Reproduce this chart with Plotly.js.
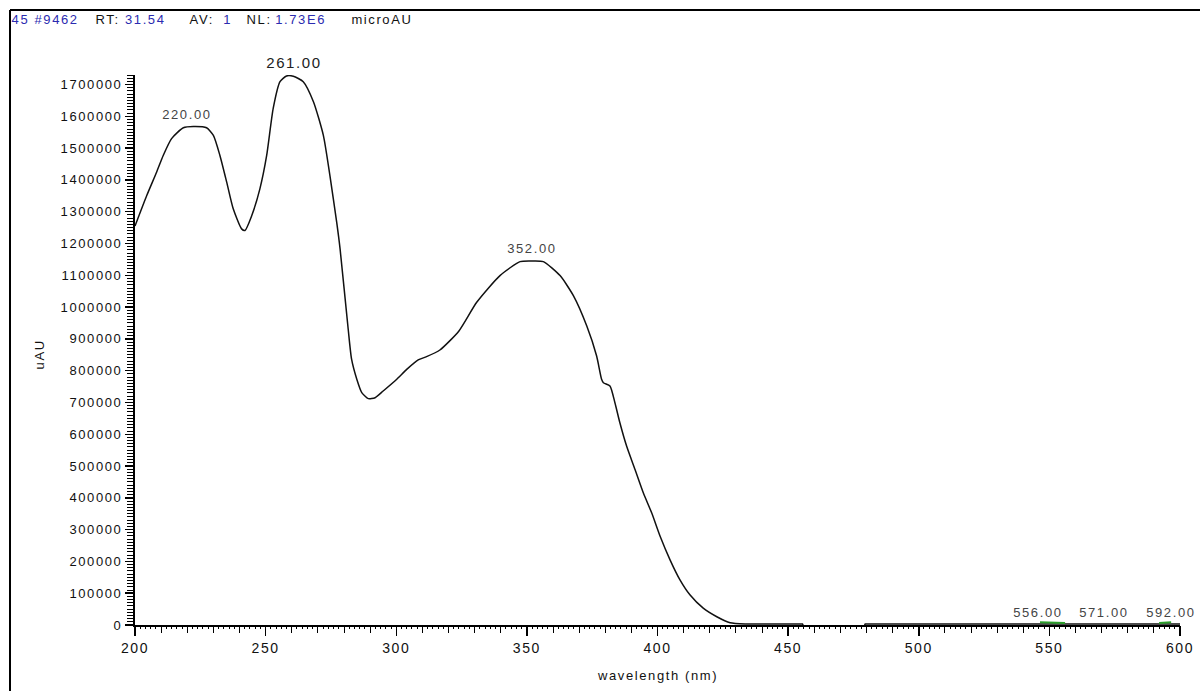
<!DOCTYPE html>
<html>
<head>
<meta charset="utf-8">
<script src="https://cdn.plot.ly/plotly-3.0.1.min.js"></script>
<style>
html,body{margin:0;padding:0;background:#fff;}
#chart{width:1200px;height:691px;}
#chart .xtick text, #chart .ytick text, #chart .annotation-text {letter-spacing:1.6px;}
</style>
</head>
<body>
<div id="chart"></div>
<script>
// Spectrum: wavelength (nm) and absorbance (uAU), main band region
var wavelength = [200, 204.5, 208.3, 210.8, 214, 218.5, 222.3, 227.4, 230, 232.5, 235.1, 237.6, 240.8, 242.1, 244.7, 247.8, 250.4, 252.9, 255.5, 258, 260.6, 264.4, 268.3, 272.1, 274.6, 277.2, 278.5, 281.6, 282.9, 284.9, 286.8, 289.3, 291.9, 295, 300.2, 304, 308.4, 311.6, 316.7, 324, 330.8, 339.7, 347.4, 352, 356.3, 362.7, 367.8, 372.9, 376.7, 378.6, 379.3, 381.8, 383.7, 385.6, 388.2, 391.4, 394.6, 397.8, 401, 404.8, 408.6, 412.4, 417.5, 422.7, 427.8, 433.5];
var absorbance = [1255000, 1351000, 1425000, 1477000, 1530000, 1564000, 1568000, 1564000, 1540000, 1477000, 1393000, 1309000, 1246000, 1241000, 1288000, 1372000, 1477000, 1625000, 1709000, 1727000, 1726000, 1709000, 1646000, 1540000, 1414000, 1267000, 1183000, 931000, 836000, 773000, 731000, 712000, 715000, 736000, 773000, 804000, 834000, 844000, 865000, 925000, 1015000, 1099000, 1143000, 1145000, 1143000, 1099000, 1036000, 941000, 846000, 773000, 762000, 752000, 699000, 636000, 562000, 489000, 415000, 352000, 279000, 205000, 142000, 95000, 53000, 26000, 7000, 3000];

// Baseline tail (near zero, dipping just below the axis 456-480 nm)
var tailWavelength = [433.5, 440, 450, 455.5, 457, 478, 479.5, 500, 520, 540, 560, 580, 600];
var tailAbsorbance = [3000, 3000, 3000, 3000, -20000, -20000, 3000, 3000, 3000, 3000, 3000, 3000, 3000];

// Green peak-marker segments near the baseline
var markA_x = [546.4, 556];
var markA_y = [9000, 6000];
var markB_x = [592, 596.6];
var markB_y = [6000, 9000];

// Peak labels
var peakX = [220, 261, 352, 556, 571, 592];
var peakY = [1568000, 1727000, 1145000, 0, 0, 0];
var peakText = ["220.00", "261.00", "352.00", "556.00", "571.00", "592.00"];
var peakShift = [0, 0, 0, -27, 0, 12];

// Header pieces (text, colour, left position in px)
var headerText = ["45 #9462", "RT:", "31.54", "AV:", "1", "NL:", "1.73E6", "microAU"];
var headerBlue = [true, false, true, false, true, false, true, false];
var headerLeft = [16, 96, 127, 190, 222, 247, 278, 355];

var yTicks = [0, 100000, 200000, 300000, 400000, 500000, 600000, 700000, 800000, 900000, 1000000, 1100000, 1200000, 1300000, 1400000, 1500000, 1600000, 1700000];
var yTickText = yTicks.map(function(v){ return String(v); });

var traces = [
  {x: wavelength, y: absorbance, type: 'scatter', mode: 'lines', line: {color: '#111', width: 1.5, shape: 'spline', smoothing: 0.6}, hoverinfo: 'skip'},
  {x: tailWavelength, y: tailAbsorbance, type: 'scatter', mode: 'lines', line: {color: '#111', width: 1.5}, hoverinfo: 'skip'},
  {x: markA_x, y: markA_y, type: 'scatter', mode: 'lines', line: {color: '#2ca02c', width: 2}, hoverinfo: 'skip'},
  {x: markB_x, y: markB_y, type: 'scatter', mode: 'lines', line: {color: '#2ca02c', width: 2}, hoverinfo: 'skip'},
  {x: [200, 600], y: [null, null], xaxis: 'x2', yaxis: 'y', type: 'scatter', mode: 'lines', hoverinfo: 'skip', showlegend: false}
];

var FONT = 'Liberation Sans, Arial, sans-serif';
var annotations = [];
for (var i = 0; i < peakX.length; i++) {
  annotations.push({
    x: peakX[i], y: peakY[i], xref: 'x', yref: 'y', text: peakText[i], showarrow: false,
    xanchor: 'center', yanchor: 'bottom', yshift: 3, xshift: peakShift[i],
    font: {family: FONT, size: i === 1 ? 15 : 13, color: i === 1 ? '#222' : '#444'}
  });
}
var L = 135, W = 1045, T = 75, H = 550;
function px(p){ return (p - L) / W; }
function py(p){ return (T + H - p) / H; }
for (var k = 0; k < headerText.length; k++) {
  annotations.push({
    xref: 'paper', yref: 'paper', x: px(headerLeft[k]), y: py(20), xanchor: 'left', yanchor: 'middle', showarrow: false,
    text: headerText[k], font: {family: FONT, size: 13, color: headerBlue[k] ? '#2b2bb0' : '#111'}
  });
}
annotations.push({
  xref: 'paper', yref: 'paper', x: px(40), y: py(355), xanchor: 'center', yanchor: 'middle', showarrow: false,
  text: 'uAU', textangle: -90, font: {family: FONT, size: 13, color: '#111'}
});
annotations.push({
  xref: 'paper', yref: 'paper', x: px(657), y: py(675), xanchor: 'center', yanchor: 'middle', showarrow: false,
  text: 'wavelength (nm)', font: {family: FONT, size: 13, color: '#111'}
});

var layout = {
  width: 1200, height: 691,
  margin: {l: L, r: 1200 - L - W, t: T, b: 691 - T - H, pad: 0},
  paper_bgcolor: '#fff', plot_bgcolor: '#fff',
  showlegend: false,
  font: {family: FONT, size: 13, color: '#111'},
  xaxis: {
    range: [200, 600], showgrid: false, zeroline: false,
    showline: true, linecolor: '#000', linewidth: 2,
    ticks: 'outside', tickcolor: '#000', ticklen: 9, tickwidth: 1.5,
    tick0: 200, dtick: 50,
    minor: {ticks: 'outside', dtick: 10, tick0: 200, ticklen: 6, tickcolor: '#000', tickwidth: 1},
    tickfont: {family: FONT, size: 14, color: '#111'},
    fixedrange: true
  },
  xaxis2: {
    overlaying: 'x', anchor: 'y', side: 'bottom', range: [200, 600],
    showgrid: false, zeroline: false, showline: false,
    ticks: 'outside', tickcolor: '#000', ticklen: 3, tickwidth: 1,
    tick0: 200, dtick: 2, showticklabels: false, fixedrange: true
  },
  yaxis: {
    range: [0, 1730000], showgrid: false, zeroline: false,
    showline: true, linecolor: '#000', linewidth: 2,
    ticks: 'outside', tickcolor: '#000', ticklen: 8, tickwidth: 1.5,
    tickvals: yTicks, ticktext: yTickText,
    minor: {ticks: 'outside', dtick: 10000, tick0: 0, ticklen: 6, tickcolor: '#000', tickwidth: 1},
    tickfont: {family: FONT, size: 13, color: '#111'},
    fixedrange: true
  },
  annotations: annotations,
  shapes: [
    {type: 'line', xref: 'paper', yref: 'paper', x0: px(10), x1: px(1200), y0: py(10), y1: py(10), line: {color: '#000', width: 2}},
    {type: 'line', xref: 'paper', yref: 'paper', x0: px(10), x1: px(10), y0: py(10), y1: py(691), line: {color: '#000', width: 2}}
  ]
};

Plotly.newPlot('chart', traces, layout, {displayModeBar: false, staticPlot: true});
</script>
</body>
</html>
